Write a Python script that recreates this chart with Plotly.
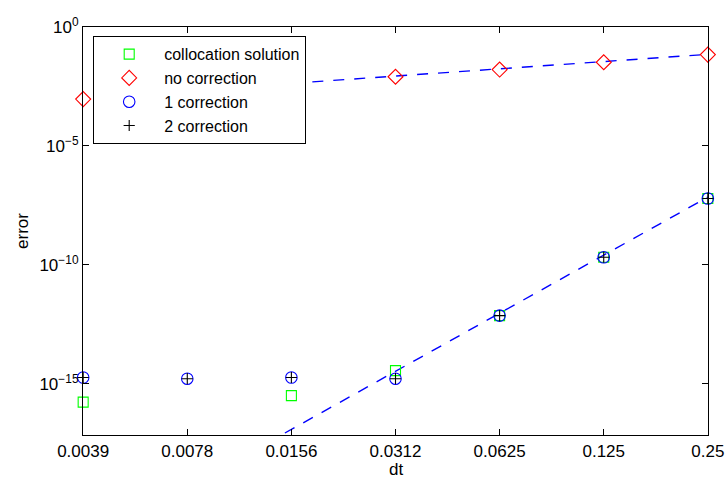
import math
import plotly.graph_objects as go

# step sizes (dt) and their printed tick labels
dt = [0.00390625, 0.0078125, 0.015625, 0.03125, 0.0625, 0.125, 0.25]
dt_labels = ["0.0039", "0.0078", "0.0156", "0.0312", "0.0625", "0.125", "0.25"]

# error of the collocation solution (no value at dt = 0.0078)
colloc_dt = [0.00390625, 0.015625, 0.03125, 0.0625, 0.125, 0.25]
colloc_err = [1.7e-16, 3.2e-16, 3.6e-15, 7.4e-13, 2.1e-10, 6.2e-8]

# uncorrected error (points at 0.0078 and 0.0156 sit under the legend)
nocorr_err = [9.3e-4, 2.2e-3, 4.4e-3, 8.1e-3, 1.62e-2, 3.3e-2, 6.9e-2]

# one and two correction sweeps
corr1_err = [1.85e-15, 1.65e-15, 1.85e-15, 1.65e-15, 7.4e-13, 2.1e-10, 6.2e-8]
corr2_err = [1.85e-15, 1.65e-15, 1.85e-15, 1.65e-15, 7.4e-13, 2.1e-10, 6.2e-8]

# reference slopes (dashed)
fit_hi_dt = [0.015625, 0.25]
fit_hi_err = [4.3e-3, 7.1e-2]
fit_lo_dt = [0.00390625, 0.25]
fit_lo_err = [1.6e-22, 7.1e-8]

# y tick positions and labels
y_ticks = [1e-15, 1e-10, 1e-5, 1e0]
y_labels = ["10<sup>\u221215</sup>", "10<sup>\u221210</sup>", "10<sup>\u22125</sup>", "10<sup>0</sup>"]

FONT = "Liberation Sans, Arial, Helvetica, sans-serif"
BLUE = "#0000ff"
TICK_SIZE = 17

fig = go.Figure()

fig.add_trace(go.Scatter(
    x=fit_hi_dt, y=fit_hi_err, mode="lines", showlegend=False,
    line=dict(color=BLUE, width=1.4, dash="11px,10px"), hoverinfo="skip"))
fig.add_trace(go.Scatter(
    x=fit_lo_dt, y=fit_lo_err, mode="lines", showlegend=False,
    line=dict(color=BLUE, width=1.4, dash="11px,10px"), hoverinfo="skip"))

fig.add_trace(go.Scatter(
    x=colloc_dt, y=colloc_err, mode="markers", name="collocation solution",
    marker=dict(symbol="square-open", size=10, color="#00ff00", line=dict(width=1.1)),
    cliponaxis=False))
fig.add_trace(go.Scatter(
    x=dt, y=nocorr_err, mode="markers", name="no correction",
    marker=dict(symbol="diamond-open", size=11.5, color="#ff0000", line=dict(width=1.1)),
    cliponaxis=False))
fig.add_trace(go.Scatter(
    x=dt, y=corr1_err, mode="markers", name="1 correction",
    marker=dict(symbol="circle-open", size=11.5, color=BLUE, line=dict(width=1.1)),
    cliponaxis=False))
fig.add_trace(go.Scatter(
    x=dt, y=corr2_err, mode="markers", name="2 correction",
    marker=dict(symbol="cross-thin-open", size=8, color="#000000", line=dict(width=1.1, color="#000000")),
    cliponaxis=False))

axis_common = dict(
    type="log", showgrid=False, zeroline=False, automargin=False,
    showline=True, linecolor="#000000", linewidth=1.2,
    mirror="ticks", ticks="inside", ticklen=6, tickwidth=1, tickcolor="#000000",
    tickfont=dict(family=FONT, size=TICK_SIZE, color="#000000"),
)

pad = 0.0005
fig.update_xaxes(
    **axis_common,
    range=[math.log10(dt[0]) - pad, math.log10(dt[-1]) + pad],
    tickmode="array", tickvals=dt, ticktext=dt_labels,
    ticklabelstandoff=0,
)
fig.update_yaxes(
    **axis_common,
    range=[-17.15, 0],
    tickmode="array", tickvals=y_ticks, ticktext=y_labels,
    title=dict(text="error", font=dict(family=FONT, size=TICK_SIZE, color="#000000"), standoff=6),
)

# x-axis caption, resting on the bottom edge below the tick labels
fig.add_annotation(
    text="dt", xref="paper", yref="paper", x=0.5, y=-0.11,
    xanchor="center", yanchor="bottom", showarrow=False, borderpad=0,
    font=dict(family=FONT, size=TICK_SIZE, color="#000000"),
)

fig.update_layout(
    width=726, height=481,
    margin=dict(l=83, r=18, t=27, b=46),
    paper_bgcolor="#ffffff", plot_bgcolor="#ffffff",
    font=dict(family=FONT, size=TICK_SIZE, color="#000000"),
    legend=dict(
        x=0.016, y=0.978, xanchor="left", yanchor="top",
        bgcolor="#ffffff", bordercolor="#000000", borderwidth=1.2,
        font=dict(family=FONT, size=16, color="#000000"),
        itemwidth=60, tracegroupgap=0,
    ),
)

fig.write_html("out.html")
